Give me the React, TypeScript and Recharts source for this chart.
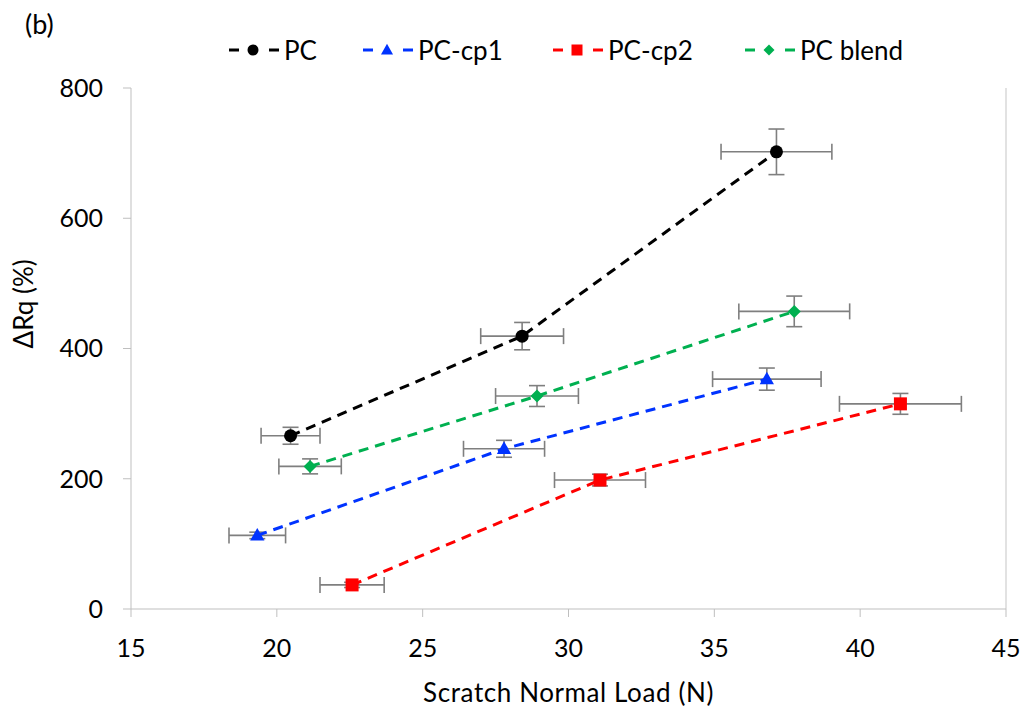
import {
  ScatterChart,
  Scatter,
  XAxis,
  YAxis,
  ErrorBar,
  ReferenceLine,
} from "recharts";

// values
const pcX = [20.47, 28.41, 37.13];
const pcY = [266, 419, 702];
const pcXErr = [1.01, 1.42, 1.9];
const pcYErr = [13, 21, 35];

const cp1X = [19.33, 27.79, 36.8];
const cp1Y = [113, 246, 353];
const cp1XErr = [0.97, 1.39, 1.86];
const cp1YErr = [5, 13, 17];

const cp2X = [22.58, 31.08, 41.38];
const cp2Y = [37, 198, 315];
const cp2XErr = [1.1, 1.56, 2.09];
const cp2YErr = [4, 9, 16];

const blendX = [21.14, 28.92, 37.74];
const blendY = [219, 327, 457];
const blendXErr = [1.07, 1.42, 1.9];
const blendYErr = [11.5, 16, 23.5];

const xTicks = [15, 20, 25, 30, 35, 40, 45];
const yTicks = [0, 200, 400, 600, 800];

const toRows = (x: number[], y: number[], ex: number[], ey: number[]) =>
  x.map((v, i) => ({ x: v, y: y[i], ex: ex[i], ey: ey[i] }));

const series = [
  { name: "PC", color: "#000000", shape: "circle", data: toRows(pcX, pcY, pcXErr, pcYErr) },
  { name: "PC-cp1", color: "#0033ff", shape: "triangle", data: toRows(cp1X, cp1Y, cp1XErr, cp1YErr) },
  { name: "PC-cp2", color: "#ff0000", shape: "square", data: toRows(cp2X, cp2Y, cp2XErr, cp2YErr) },
  { name: "PC blend", color: "#00b050", shape: "diamond", data: toRows(blendX, blendY, blendXErr, blendYErr) },
];

const legendTextLeft = [284, 418, 608, 800];
const font = "Lato, 'Open Sans', sans-serif";

function Marker({ shape, color, cx, cy, r }: { shape: string; color: string; cx: number; cy: number; r: number }) {
  if (shape === "circle") return <circle cx={cx} cy={cy} r={r} fill={color} />;
  if (shape === "triangle")
    return <polygon points={`${cx},${cy - r * 1.15} ${cx + r * 1.1},${cy + r * 0.8} ${cx - r * 1.1},${cy + r * 0.8}`} fill={color} />;
  if (shape === "square") return <rect x={cx - r} y={cy - r} width={r * 2} height={r * 2} fill={color} />;
  return <polygon points={`${cx},${cy - r} ${cx + r},${cy} ${cx},${cy + r} ${cx - r},${cy}`} fill={color} />;
}

export default function App() {
  return (
    <div style={{ position: "absolute", left: 0, top: 0, width: 1027, height: 708, fontFamily: font }}>
      <div style={{ position: "absolute", left: 25, top: 10, fontSize: 27, lineHeight: 1 }}>(b)</div>
      {series.map((s, i) => (
        <div key={s.name}>
          <svg width={52} height={20} style={{ position: "absolute", left: legendTextLeft[i] - 55, top: 40 }}>
            <line x1={0} y1={10} x2={10} y2={10} stroke={s.color} strokeWidth={3} />
            <line x1={40} y1={10} x2={50} y2={10} stroke={s.color} strokeWidth={3} />
            <Marker shape={s.shape} color={s.color} cx={24} cy={10} r={5.5} />
          </svg>
          <span style={{ position: "absolute", left: legendTextLeft[i], top: 37, fontSize: 26, lineHeight: 1, whiteSpace: "nowrap" }}>
            {s.name}
          </span>
        </div>
      ))}
      <ScatterChart width={1027} height={708} margin={{ top: 88, right: 21, bottom: 0, left: 0 }}>
        <XAxis
          type="number"
          dataKey="x"
          domain={[15, 45]}
          ticks={xTicks}
          stroke="#bfbfbf"
          tickSize={8}
          tickMargin={22}
          tick={{ fill: "#000", fontSize: 25, fontFamily: font }}
          height={99}
          label={{
            value: "Scratch Normal Load (N)",
            position: "insideBottom",
            offset: 6,
            fill: "#000",
            fontSize: 26,
            fontFamily: font,
            style: { letterSpacing: 0.6 },
          }}
        />
        <YAxis
          type="number"
          dataKey="y"
          domain={[0, 800]}
          ticks={yTicks}
          stroke="#bfbfbf"
          tickSize={8}
          tickMargin={20}
          width={131}
          tick={{ fill: "#000", fontSize: 25, fontFamily: font }}
          label={{ value: "ΔRq (%)", angle: -90, position: "insideLeft", offset: 24, fill: "#000", fontSize: 26, fontFamily: font }}
        />
        <ReferenceLine x={45} stroke="#d9d9d9" strokeWidth={1.5} />
        {series.map((s) => (
          <Scatter
            key={s.name}
            name={s.name}
            data={s.data}
            fill={s.color}
            shape={(p: any) => <Marker shape={s.shape} color={s.color} cx={p.cx} cy={p.cy} r={6.5} />}
            line={{ stroke: s.color, strokeWidth: 3, strokeDasharray: "10 7" }}
            lineType="joint"
            isAnimationActive={false}
          >
            <ErrorBar dataKey="ex" direction="x" width={8} stroke="#7f7f7f" strokeWidth={1.6} />
            <ErrorBar dataKey="ey" direction="y" width={8} stroke="#7f7f7f" strokeWidth={1.6} />
          </Scatter>
        ))}
      </ScatterChart>
    </div>
  );
}
